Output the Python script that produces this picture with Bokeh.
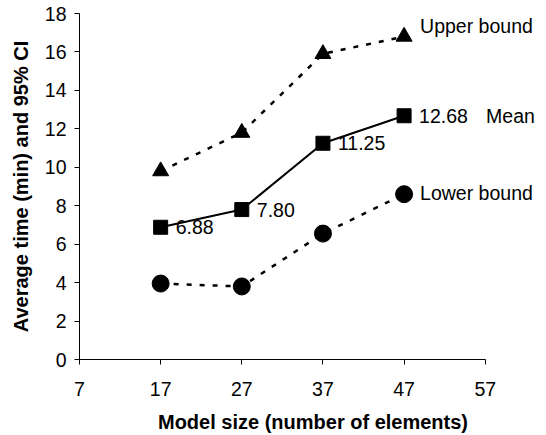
from bokeh.plotting import figure
from bokeh.models import Range1d, FixedTicker
from bokeh.core.properties import value
from bokeh.embed import file_html
from bokeh.resources import INLINE

# ---- data ----
sizes = [17, 27, 37, 47]
upper = [9.8, 11.8, 15.9, 16.8]
mean = [6.88, 7.80, 11.25, 12.68]
lower = [3.95, 3.8, 6.55, 8.6]
x_ticks = [7, 17, 27, 37, 47, 57]
y_ticks = [0, 2, 4, 6, 8, 10, 12, 14, 16, 18]
x_title = "Model size (number of elements)"
y_title = "Average time (min) and 95% CI"
name_upper = "Upper bound"
name_mean = "Mean"
name_lower = "Lower bound"

FONT = "Liberation Sans"
FS = "19.5px"

p = figure(width=546, height=435, output_backend="svg", toolbar_location=None,
           x_range=Range1d(7, 64.55), y_range=Range1d(0, 18),
           min_border_left=79, min_border_right=0, min_border_top=13,
           min_border_bottom=76)
p.outline_line_color = None
p.grid.visible = False
p.background_fill_color = "white"
p.border_fill_color = "white"

for ax in (p.xaxis, p.yaxis):
    ax.axis_line_color = "black"
    ax.axis_line_width = 1
    ax.major_tick_line_color = "black"
    ax.major_tick_in = 0
    ax.major_tick_out = 5
    ax.minor_tick_line_color = None
    ax.major_label_text_font = FONT
    ax.major_label_text_font_size = FS
    ax.major_label_text_color = "black"
    ax.axis_label_text_font = FONT
    ax.axis_label_text_font_size = "20px"
    ax.axis_label_text_font_style = "bold"
    ax.axis_label_text_color = "black"

p.xaxis.bounds = (x_ticks[0], x_ticks[-1])
p.xaxis.ticker = FixedTicker(ticks=x_ticks)
p.yaxis.ticker = FixedTicker(ticks=y_ticks)
p.xaxis.major_label_standoff = 17
p.yaxis.major_label_standoff = 8
p.xaxis.axis_label = x_title
p.yaxis.axis_label = y_title
p.xaxis.axis_label_standoff = 12
p.yaxis.axis_label_standoff = 10

dash = "5 8"
p.line(sizes, upper, line_color="black", line_width=2.5, line_dash=dash)
p.line(sizes, lower, line_color="black", line_width=2.5, line_dash=dash)
p.line(sizes, mean, line_color="black", line_width=2)

p.scatter(sizes, upper, marker="triangle", size=16, color="black")
p.scatter(sizes, mean, marker="square", size=14, color="black")
p.scatter(sizes, lower, marker="circle", size=17, color="black")

txt = dict(text_font=value(FONT), text_font_size=FS, text_color="black",
           text_baseline="middle", text_align="left")
p.text(x=sizes, y=mean, text=[f"{v:.2f}" for v in mean], x_offset=15, **txt)
p.text(x=[sizes[-1]], y=[upper[-1]], text=[name_upper], x_offset=16, y_offset=-11, **txt)
p.text(x=[sizes[-1]], y=[mean[-1]], text=[name_mean], x_offset=82, y_offset=0, **txt)
p.text(x=[sizes[-1]], y=[lower[-1]], text=[name_lower], x_offset=16, y_offset=-1, **txt)

open("out.html", "w").write(file_html(p, INLINE))
